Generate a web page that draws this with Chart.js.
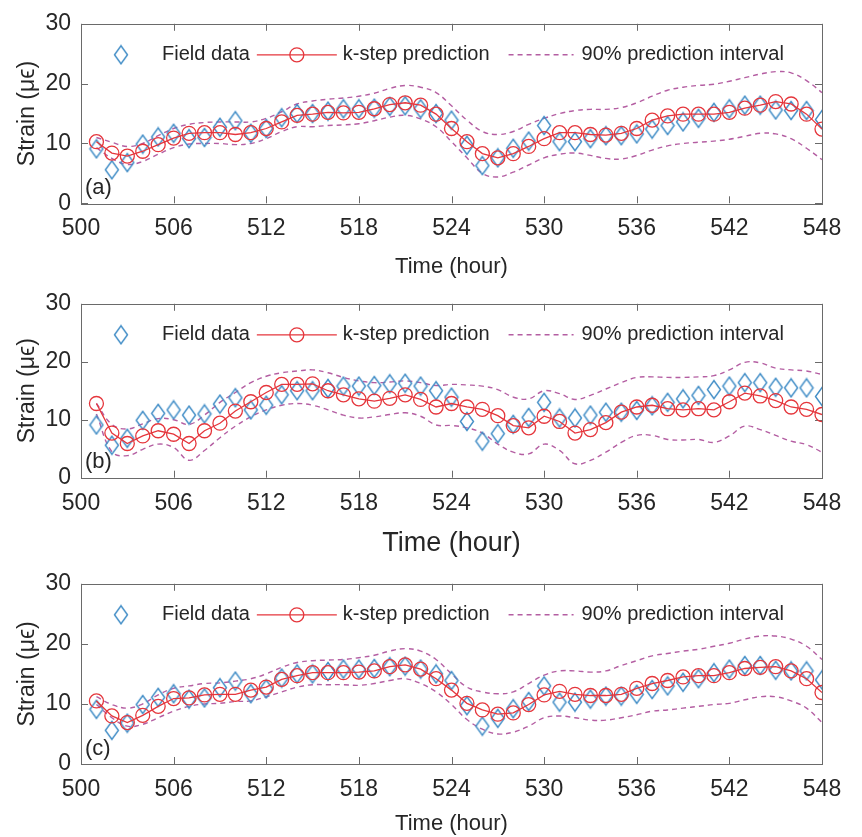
<!DOCTYPE html>
<html><head><meta charset="utf-8">
<script src="https://cdn.jsdelivr.net/npm/chart.js@4/dist/chart.umd.min.js"></script>
<style>
html,body{margin:0;padding:0;background:#fff;}
#wrap{position:relative;width:862px;height:837px;overflow:hidden;}
canvas{position:absolute;left:0;}
</style></head><body>
<div id="wrap">
<canvas id="ca" width="862" height="280" style="top:0px"></canvas>
<canvas id="cb" width="862" height="280" style="top:280px"></canvas>
<canvas id="cc" width="862" height="277" style="top:560px"></canvas>
</div>
<script>
// ---- data ----
const hours = [501,502,503,504,505,506,507,508,509,510,511,512,513,514,515,516,517,518,519,520,521,522,523,524,525,526,527,528,529,530,531,532,533,534,535,536,537,538,539,540,541,542,543,544,545,546,547,548];
const xTickValues = [500,506,512,518,524,530,536,542,548];
const yTickValues = [0,10,20,30];
const legendLabels = ['Field data','k-step prediction','90% prediction interval'];
const panelLabels = ['(a)','(b)','(c)'];

const fieldData = [9.1,5.6,6.8,9.9,11.1,11.7,10.8,11.0,12.7,13.8,11.7,12.5,14.3,15.0,15.0,15.4,15.8,15.8,15.9,16.2,16.3,15.8,15.0,13.9,9.7,6.3,7.6,9.2,10.4,13.0,10.3,10.3,10.8,11.3,11.3,11.6,12.4,13.0,13.6,14.2,15.2,15.8,16.4,16.4,15.6,15.5,15.5,14.0];

const predA = [10.3,8.4,7.9,8.7,9.8,10.9,11.7,11.8,11.8,11.5,11.8,12.5,13.6,14.7,14.9,15.2,15.1,15.2,15.8,16.5,16.8,16.4,14.9,12.5,10.3,8.3,7.6,8.3,9.5,10.8,11.8,11.8,11.5,11.4,11.7,12.5,13.9,14.6,14.9,14.9,14.9,15.2,15.9,16.4,17.0,16.6,14.9,12.4];
const upperA = [11.0,10.2,9.5,10.0,11.3,12.5,13.2,13.5,13.6,13.6,13.6,14.2,15.3,16.6,17.1,17.4,17.6,17.9,18.4,19.2,19.7,19.4,18.5,16.3,13.9,12.0,11.5,12.0,13.2,14.2,15.0,15.5,15.7,15.7,16.0,16.8,17.9,18.9,19.4,19.7,19.9,20.4,21.0,21.6,22.0,21.8,20.5,18.5];
const lowerA = [9.3,7.5,6.5,7.0,8.2,9.3,9.9,10.0,10.0,9.8,10.0,10.8,12.0,12.8,12.8,13.0,13.1,13.3,13.8,14.4,14.7,14.1,12.8,10.3,7.6,5.0,4.4,5.2,6.4,7.6,8.2,8.4,8.0,7.5,7.4,8.0,8.9,9.6,10.0,10.2,10.4,10.7,11.2,11.7,11.6,10.8,9.2,7.3];

const predB = [12.8,7.7,5.9,7.2,8.1,7.5,5.9,8.1,9.4,11.5,13.1,14.7,16.1,16.1,16.2,15.0,14.3,13.6,13.2,13.7,14.3,13.5,12.2,12.8,12.2,11.8,10.7,9.0,8.6,10.6,9.7,7.7,8.3,9.5,11.3,12.2,12.5,11.9,11.7,11.9,11.7,13.1,14.6,14.1,13.3,12.2,11.8,10.9];
const upperB = [12.8,9.2,8.4,9.3,10.2,10.0,9.2,10.8,13.0,14.7,16.4,17.5,18.1,18.4,18.6,18.1,17.3,16.7,16.4,16.5,16.7,16.4,15.9,16.1,16.0,15.8,15.2,13.9,13.6,15.0,14.5,13.5,14.2,15.3,16.4,17.3,17.4,17.3,17.3,17.4,17.6,18.6,19.9,19.8,18.9,18.6,18.4,17.8];
const lowerB = [11.0,4.5,3.8,4.9,5.8,5.2,3.0,4.7,6.9,8.9,10.5,11.7,12.5,12.8,12.5,11.7,10.8,10.3,10.5,10.9,11.2,10.6,9.1,9.0,8.6,7.7,5.8,4.4,4.1,5.8,4.7,2.4,3.0,4.4,6.1,7.3,7.3,6.6,6.5,6.6,6.1,7.2,8.9,8.3,7.3,6.3,5.7,4.4];

const predC = [10.5,8.0,6.9,8.1,9.6,10.9,11.0,11.5,11.6,11.6,12.3,12.8,14.1,14.7,15.2,15.2,15.2,15.3,15.5,16.2,16.5,15.8,14.2,12.3,10.1,9.0,8.3,8.5,9.9,11.5,12.1,11.6,11.4,11.4,11.6,12.6,13.4,13.9,14.5,14.7,14.7,15.2,15.9,16.1,16.2,15.5,14.2,11.9];
const upperC = [11.2,9.9,9.3,10.0,11.5,12.6,13.0,13.4,13.5,13.8,14.2,15.0,16.1,16.9,17.2,17.3,17.4,17.7,18.1,18.8,19.2,18.8,17.4,15.0,12.8,12.0,11.7,12.0,13.4,14.8,15.5,15.5,15.3,15.5,16.4,17.2,18.0,18.4,18.8,19.1,19.6,20.1,20.8,21.3,21.3,20.8,19.6,17.4];
const lowerC = [9.9,7.7,6.3,6.6,7.7,8.8,9.6,10.0,10.1,10.4,10.5,11.2,12.0,12.8,13.2,13.2,13.2,13.1,13.4,13.9,14.2,13.4,12.0,9.9,7.4,5.8,5.0,5.3,6.3,7.7,8.0,7.7,7.3,7.3,7.7,8.2,8.8,9.0,9.3,9.6,9.9,10.1,10.7,11.2,11.2,10.5,9.3,6.9];

// ---- styling ----
const BLUE = '#3f8cc6', RED = '#e5363c', PURPLE = '#b45ea2', AXIS = '#6a6a6a', TXT = '#262626';
const FONT = "'Liberation Sans', Arial, Helvetica, sans-serif";
Chart.defaults.font.family = FONT;
Chart.defaults.color = TXT;

function makeDiamond(color){
  const c = document.createElement('canvas'); c.width = 16; c.height = 21;
  const g = c.getContext('2d'); g.strokeStyle = color; g.lineWidth = 1.4;
  g.beginPath(); g.moveTo(8,1.5); g.lineTo(14.5,10.5); g.lineTo(8,19.5); g.lineTo(1.5,10.5); g.closePath(); g.stroke();
  return c;
}
const diamondImg = makeDiamond(BLUE);
const pts = arr => hours.map((h,i)=>({x:h, y:arr[i]}));

const framePlugin = {
  id:'frame',
  beforeDatasetsDraw(chart){
    const {ctx, chartArea:a, scales:{x, y}} = chart;
    ctx.save();
    ctx.strokeStyle = AXIS; ctx.lineWidth = 1;
    const T = 7;
    ctx.beginPath();
    xTickValues.forEach(v=>{ const px = Math.round(x.getPixelForValue(v))+0.5;
      ctx.moveTo(px,a.bottom); ctx.lineTo(px,a.bottom-T); ctx.moveTo(px,a.top); ctx.lineTo(px,a.top+T); });
    yTickValues.forEach(v=>{ const py = Math.round(y.getPixelForValue(v))+0.5;
      ctx.moveTo(a.left,py); ctx.lineTo(a.left+T,py); ctx.moveTo(a.right,py); ctx.lineTo(a.right-T,py); });
    ctx.stroke();
    ctx.strokeRect(Math.round(a.left)+0.5, Math.round(a.top)+0.5, Math.round(a.right-a.left), Math.round(a.bottom-a.top));
    ctx.restore();
  }
};

const legendPlugin = {
  id:'insideLegend',
  afterDatasetsDraw(chart, args, opts){
    const {ctx, chartArea:a} = chart;
    ctx.save();
    ctx.font = '20px ' + FONT; ctx.fillStyle = TXT; ctx.textBaseline = 'middle'; ctx.textAlign = 'left';
    const yc = a.top + 31;
    ctx.drawImage(diamondImg, a.left + 40 - 8, yc - 10.5);
    let tx = a.left + 81;
    ctx.fillText(legendLabels[0], tx, yc);
    tx += ctx.measureText(legendLabels[0]).width + 7;
    ctx.strokeStyle = RED; ctx.lineWidth = 1.3;
    ctx.beginPath(); ctx.moveTo(tx, yc); ctx.lineTo(tx+80, yc); ctx.stroke();
    ctx.beginPath(); ctx.arc(tx+40, yc, 7, 0, Math.PI*2); ctx.stroke();
    tx += 86;
    ctx.fillText(legendLabels[1], tx, yc);
    tx += ctx.measureText(legendLabels[1]).width + 19;
    ctx.strokeStyle = PURPLE; ctx.lineWidth = 1.4; ctx.setLineDash([5,4]);
    ctx.beginPath(); ctx.moveTo(tx, yc); ctx.lineTo(tx+65, yc); ctx.stroke();
    ctx.setLineDash([]);
    tx += 73;
    ctx.fillText(legendLabels[2], tx, yc);
    ctx.font = '22px ' + FONT; ctx.textBaseline = 'alphabetic';
    ctx.fillText(opts.label, a.left + 4, a.bottom - 9.5);
    ctx.restore();
  }
};

function makeChart(id, pred, upper, lower, cfg){
  const H = cfg.H;
  return new Chart(document.getElementById(id), {
    type:'line',
    data:{ datasets:[
      {label:legendLabels[0], data:pts(fieldData), showLine:false, pointStyle:diamondImg, pointRadius:8, borderColor:BLUE, backgroundColor:BLUE, order:1},
      {label:legendLabels[1], data:pts(pred), borderColor:RED, borderWidth:1.3, tension:0, pointStyle:'circle', pointRadius:7, pointBorderWidth:1.3, pointBorderColor:RED, pointBackgroundColor:'rgba(0,0,0,0)', order:0},
      {label:legendLabels[2], data:pts(upper), borderColor:PURPLE, borderWidth:1.4, borderDash:[5,4], pointRadius:0, tension:0.4, order:2},
      {label:legendLabels[2], data:pts(lower), borderColor:PURPLE, borderWidth:1.4, borderDash:[5,4], pointRadius:0, tension:0.4, order:2}
    ]},
    options:{
      responsive:false, animation:false, devicePixelRatio:1,
      layout:{padding:{left:0, right:40, top:19.3, bottom:0}},
      plugins:{legend:{display:false}, tooltip:{enabled:false}, insideLegend:{label:cfg.label}},
      scales:{
        x:{type:'linear', min:500, max:548,
          afterBuildTicks:s=>{ s.ticks = xTickValues.map(v=>({value:v})); },
          afterFit:s=>{ s.height = H - cfg.bottom; },
          grid:{display:false, drawTicks:false}, border:{display:false},
          ticks:{font:{size:23}, color:TXT, padding:12, maxRotation:0, autoSkip:false},
          title:{display:true, text:'Time (hour)', font:{size:cfg.xTitleSize}, color:TXT, padding:{top:0,bottom:cfg.xTitlePad}}
        },
        y:{type:'linear', min:0, max:30,
          afterBuildTicks:s=>{ s.ticks = yTickValues.map(v=>({value:v})); },
          afterFit:s=>{ s.width = 81; },
          grid:{display:false, drawTicks:false}, border:{display:false},
          ticks:{font:{size:23}, color:TXT, padding:10},
          title:{display:true, text:'Strain (μϵ)', font:{size:23}, color:TXT, padding:{top:14,bottom:0}}
        }
      }
    },
    plugins:[framePlugin, legendPlugin]
  });
}

makeChart('ca', predA, upperA, lowerA, {H:280, bottom:203.3, xTitleSize:22, xTitlePad:0, label:panelLabels[0]});
makeChart('cb', predB, upperB, lowerB, {H:280, bottom:197.7, xTitleSize:27, xTitlePad:0, label:panelLabels[1]});
makeChart('cc', predC, upperC, lowerC, {H:277, bottom:204, xTitleSize:22, xTitlePad:0, label:panelLabels[2]});
</script>
</body></html>
